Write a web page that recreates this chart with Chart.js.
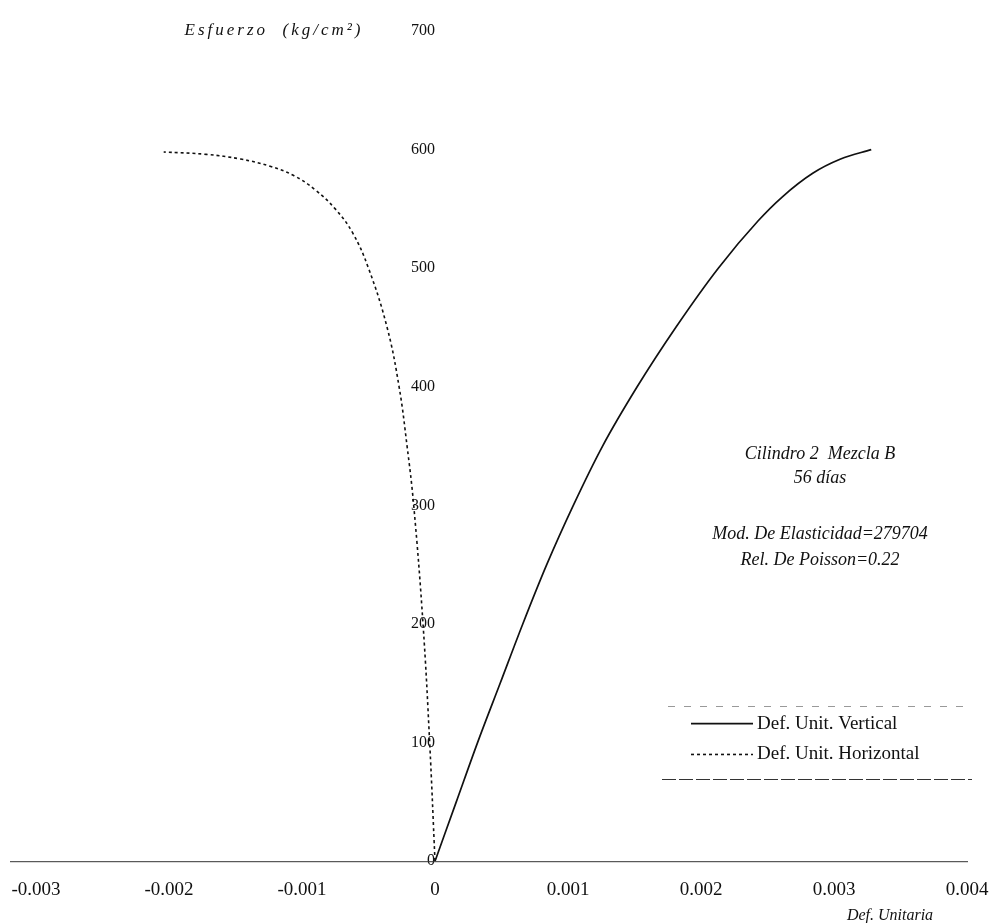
<!DOCTYPE html>
<html>
<head>
<meta charset="utf-8">
<script src="https://cdn.jsdelivr.net/npm/chart.js@4.4.0/dist/chart.umd.min.js"></script>
<style>
    html, body { margin: 0; padding: 0; background: #fff; }
    #wrap { width: 993px; height: 923px; }
</style>
</head>
<body>
<div id="wrap"><canvas id="chart"></canvas></div>
<script>
////// datos

// Def. Unit. Vertical (deformacion, esfuerzo)
const vertStrain = [0, 0.00016, 0.00032, 0.00049, 0.00066, 0.00084, 0.00104, 0.00126, 0.00152, 0.00181, 0.00213, 0.00243, 0.00261, 0.00284, 0.00305, 0.00328];
const vertStress = [0, 50, 100, 150, 200, 250, 300, 350, 400, 450, 500, 540, 560, 580, 592, 600];

// Def. Unit. Horizontal
const horStrain = [0, -0.00004, -0.00009, -0.00016, -0.00021, -0.00027, -0.00036, -0.00050, -0.00062, -0.00075, -0.00090, -0.00106, -0.00124, -0.00146, -0.00172, -0.00204];
const horStress = [0, 100, 200, 300, 350, 400, 450, 500, 530, 550, 566, 578, 586, 592, 596, 598];

const xTicks = [-0.003, -0.002, -0.001, 0, 0.001, 0.002, 0.003, 0.004];
const yTicks = [0, 100, 200, 300, 400, 500, 600, 700];

const seriesNames = ["Def. Unit. Vertical", "Def. Unit. Horizontal"];
const infoLines = ["Cilindro 2  Mezcla B", "56 días", "Mod. De Elasticidad=279704", "Rel. De Poisson=0.22"];
const infoLevels = [343, 323, 276, 254];   // altura de cada linea en kg/cm2
const yTitle = "Esfuerzo  (kg/cm²)";
const xTitle = "Def. Unitaria";

const serif = "'Liberation Serif', 'Times New Roman', serif";
const ink = '#111';

function toPoints(xs, ys) {
    return xs.map((x, i) => ({ x: x, y: ys[i] }));
}

// textos, eje x y leyenda
const extras = {
    id: 'extras',
    afterDraw(chart) {
        const ctx = chart.ctx;
        const xs = chart.scales.x;
        const ys = chart.scales.y;
        const y0 = ys.getPixelForValue(0);
        ctx.save();

        // linea del eje x
        ctx.strokeStyle = '#333';
        ctx.lineWidth = 1;
        ctx.beginPath();
        ctx.moveTo(10, y0 + 0.5);
        ctx.lineTo(xs.right + 1, y0 + 0.5);
        ctx.stroke();

        ctx.fillStyle = ink;
        ctx.textBaseline = 'middle';
        ctx.textAlign = 'center';

        // titulo eje y
        ctx.font = 'italic 17px ' + serif;
        ctx.letterSpacing = '3px';
        ctx.fillText(yTitle, 274, ys.getPixelForValue(700));
        ctx.letterSpacing = '0px';

        // titulo eje x
        ctx.font = 'italic 16px ' + serif;
        ctx.fillText(xTitle, 890, y0 + 55);

        // cuadro de informacion
        ctx.font = 'italic 18px ' + serif;
        infoLines.forEach((t, i) => {
            ctx.fillText(t, 820, ys.getPixelForValue(infoLevels[i]));
        });

        // leyenda
        const ds = chart.data.datasets;
        const lx = 691, lw = 62;
        const rows = [ys.getPixelForValue(116), ys.getPixelForValue(90)];
        ctx.font = '19px ' + serif;
        ctx.textAlign = 'left';
        ds.forEach((d, i) => {
            ctx.strokeStyle = d.borderColor;
            ctx.lineWidth = d.borderWidth;
            ctx.setLineDash(d.borderDash || []);
            ctx.beginPath();
            ctx.moveTo(lx, rows[i]);
            ctx.lineTo(lx + lw, rows[i]);
            ctx.stroke();
            ctx.setLineDash([]);
            ctx.fillText(d.label, lx + lw + 4, rows[i]);
        });
        const top = Math.round(ys.getPixelForValue(131)) + 0.5;
        const bot = Math.round(ys.getPixelForValue(69)) + 0.5;
        ctx.lineWidth = 1;
        ctx.strokeStyle = '#999';
        ctx.setLineDash([7, 9]);
        ctx.beginPath();
        ctx.moveTo(668, top);
        ctx.lineTo(963, top);
        ctx.stroke();
        ctx.strokeStyle = '#333';
        ctx.setLineDash([14, 3]);
        ctx.beginPath();
        ctx.moveTo(662, bot);
        ctx.lineTo(972, bot);
        ctx.stroke();
        ctx.restore();
    }
};

const ctx = document.getElementById('chart').getContext('2d');
const chart = new Chart(ctx, {
    type: 'scatter',
    data: {
        datasets: [{
            label: seriesNames[0],
            data: toPoints(vertStrain, vertStress),
            showLine: true,
            borderColor: ink,
            borderWidth: 1.7,
            pointRadius: 0,
            cubicInterpolationMode: 'monotone'
        }, {
            label: seriesNames[1],
            data: toPoints(horStrain, horStress),
            showLine: true,
            borderColor: ink,
            borderWidth: 1.6,
            borderDash: [3, 3],
            pointRadius: 0,
            tension: 0.4
        }]
    },
    options: {
        responsive: true,
        maintainAspectRatio: false,
        animation: false,
        layout: { padding: { left: 36, right: 26, top: 31, bottom: 5 } },
        plugins: {
            legend: { display: false },
            tooltip: { enabled: false }
        },
        scales: {
            x: {
                type: 'linear',
                position: 'bottom',
                min: -0.003,
                max: 0.004,
                afterBuildTicks: s => { s.ticks = xTicks.map(v => ({ value: v })); },
                afterFit: s => { s.paddingLeft = 0; s.paddingRight = 0; },
                grid: { display: false, drawTicks: false },
                border: { display: false },
                ticks: {
                    padding: 17,
                    color: ink,
                    font: { family: serif, size: 19 },
                    callback: v => v === 0 ? '0' : v.toFixed(3)
                }
            },
            y: {
                type: 'linear',
                position: { x: 0 },
                min: 0,
                max: 700,
                afterBuildTicks: s => { s.ticks = yTicks.map(v => ({ value: v })); },
                afterFit: s => { s.paddingTop = 0; s.paddingBottom = 0; },
                grid: { display: false, drawTicks: false },
                border: { display: false },
                ticks: {
                    padding: 4,
                    color: ink,
                    font: { family: serif, size: 16 }
                }
            }
        }
    },
    plugins: [extras]
});
</script>
</body>
</html>
